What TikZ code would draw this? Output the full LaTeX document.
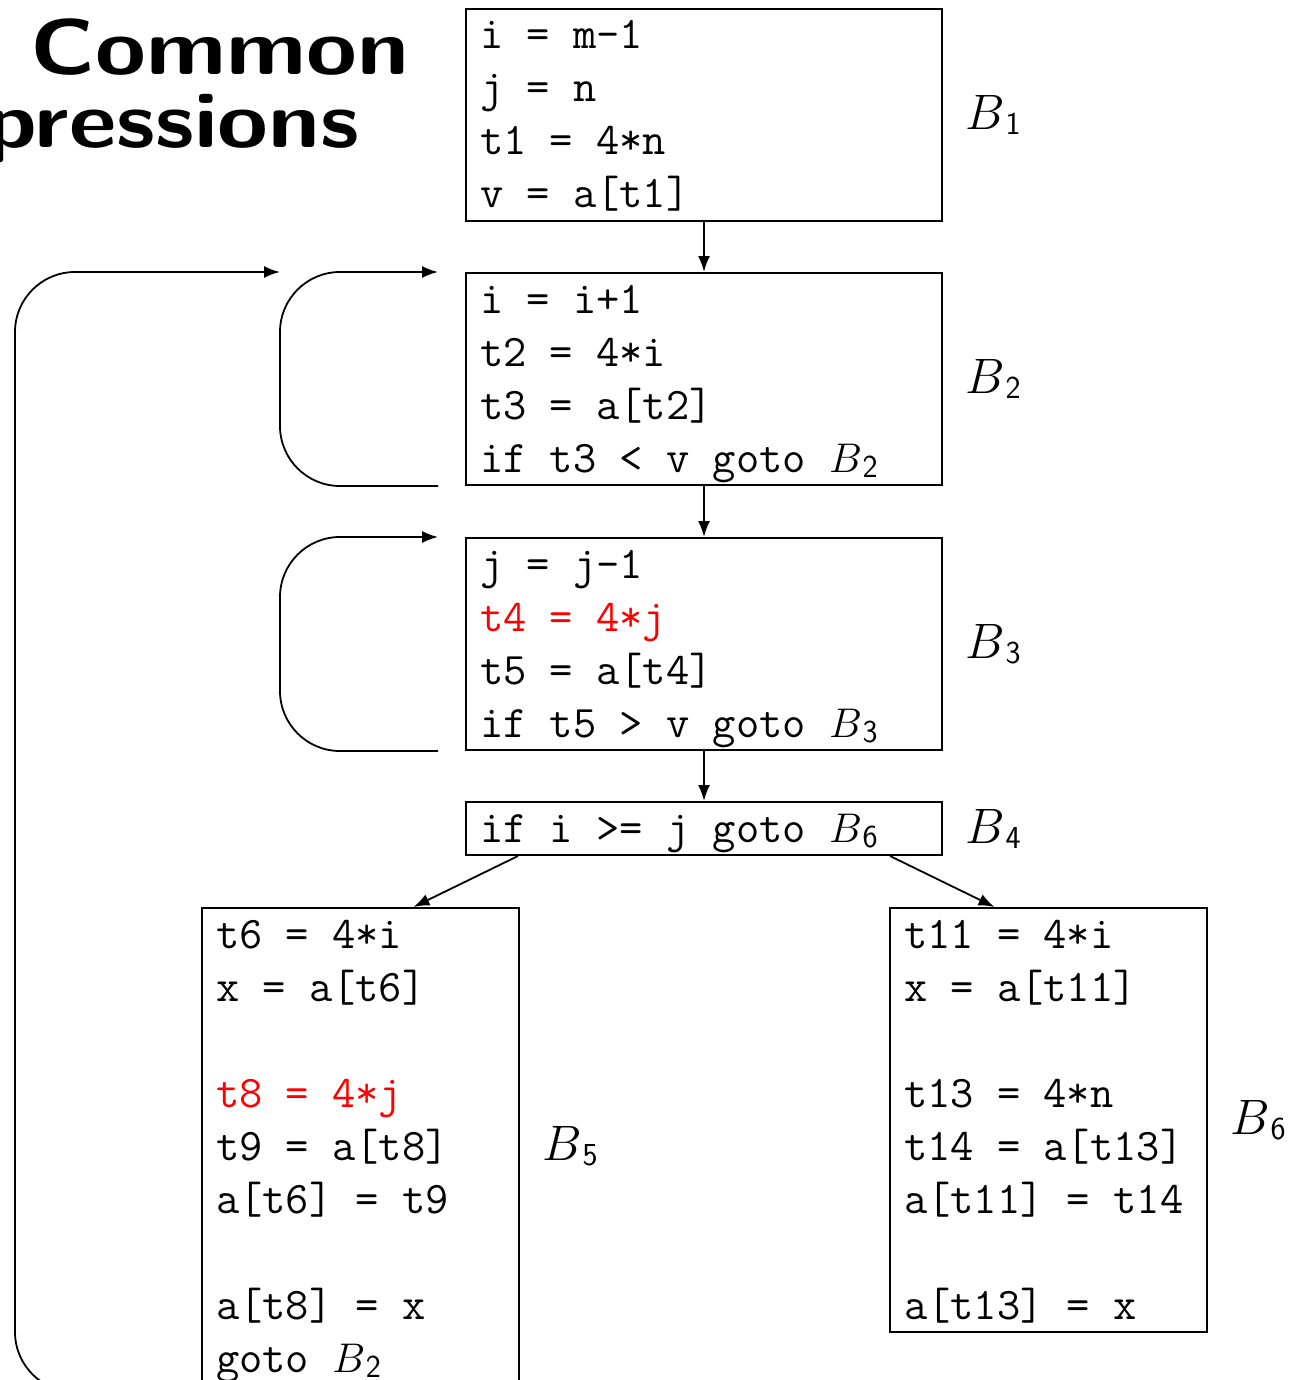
\documentclass[tikz,border=0pt]{standalone}
\usetikzlibrary{arrows.meta}
\newcommand\codestrut{\rule[-6.5pt]{0pt}{26.5pt}}
\newcommand\sk{\hbox{\phantom{x}}}
\newcommand\blk[1]{$B$\kern0.3pt\raisebox{-2.5pt}{\fontsize{16}{16}\selectfont\sffamily #1}}
\tikzset{
  block/.style={draw, line width=1pt, anchor=north west, inner xsep=7pt, inner ysep=0pt,
    align=left, font=\fontsize{22.6}{26.5}\selectfont\ttfamily},
  wide/.style={block, text width=224pt},
  narrow/.style={block, text width=144.5pt},
  flow/.style={-{Latex[length=8pt,width=6pt]}, line width=0.9pt},
  blabel/.style={anchor=west, inner sep=0pt, font=\fontsize{23}{26.5}\selectfont},
  title/.style={anchor=base east, inner sep=0pt, font=\fontsize{39.5}{40}\selectfont\sffamily\bfseries},
}
\begin{document}
\begin{tikzpicture}[x=0.5pt,y=-0.5pt]
  \useasboundingbox (0,0) rectangle (1289,1380);
  \clip (0,0) rectangle (1289,1380);
  % title, cut by the frame
  \node[title] (title1) at (410,75) {\scalebox{1.17}[1]{Common}};
  \node[title] (title2) at (360,148) {\scalebox{1.17}[1]{Subexpressions}};
  % blocks
  \node[wide] (b1) at (465,8) {\codestrut i\sk=\sk m-1\\ \codestrut j\sk=\sk n\\ \codestrut t1\sk=\sk 4*n\\ \codestrut v\sk=\sk a[t1]};
  \node[wide] (b2) at (465,272) {\codestrut i\sk=\sk i+1\\ \codestrut t2\sk=\sk 4*i\\ \codestrut t3\sk=\sk a[t2]\\ \codestrut if\sk t3\sk<\sk v\sk goto\sk\blk{2}};
  \node[wide] (b3) at (465,537) {\codestrut j\sk=\sk j-1\\ \codestrut{\color{red}t4\sk=\sk 4*j}\\ \codestrut t5\sk=\sk a[t4]\\ \codestrut if\sk t5\sk>\sk v\sk goto\sk\blk{3}};
  \node[wide] (b4) at (465,801) {\codestrut if\sk i\sk>=\sk j\sk goto\sk\blk{6}};
  \node[narrow] (b5) at (201,907) {\codestrut t6\sk=\sk 4*i\\ \codestrut x\sk=\sk a[t6]\\ \codestrut\\ \codestrut{\color{red}t8\sk=\sk 4*j}\\ \codestrut t9\sk=\sk a[t8]\\ \codestrut a[t6]\sk=\sk t9\\ \codestrut\\ \codestrut a[t8]\sk=\sk x\\ \codestrut goto\sk\blk{2}};
  \node[narrow] (b6) at (889,907) {\codestrut t11\sk=\sk 4*i\\ \codestrut x\sk=\sk a[t11]\\ \codestrut\\ \codestrut t13\sk=\sk 4*n\\ \codestrut t14\sk=\sk a[t13]\\ \codestrut a[t11]\sk=\sk t14\\ \codestrut\\ \codestrut a[t13]\sk=\sk x};
  % labels
  \foreach \b/\n in {b1/1,b2/2,b3/3,b4/4,b5/5,b6/6}
    \node[blabel] (l\n) at ([xshift=11pt]\b.east) {\blk{\n}};
  % edges
  \draw[flow] (b1.south) -- (b2.north);
  \draw[flow] (b2.south) -- (b3.north);
  \draw[flow] (b3.south) -- (b4.north);
  \draw[flow] ([xshift=26.5pt]b4.south west) -- ([xshift=26.5pt]b5.north);
  \draw[flow] ([xshift=-26.5pt]b4.south east) -- ([xshift=-27pt]b6.north);
  % back edges
  \coordinate (join) at ([xshift=-92.5pt]b2.north west);
  \draw[flow, rounded corners=30pt] ([xshift=-13.5pt]b2.south west) -- ++(-79pt,0) |- ([xshift=-13.5pt]b2.north west);
  \draw[flow, rounded corners=30pt] ([xshift=-13.5pt]b3.south west) -- ++(-79pt,0) |- ([xshift=-13.5pt]b3.north west);
  \draw[flow, rounded corners=30pt] ([yshift=-3pt]b5.south west) -| (15,272) -- (join);
\end{tikzpicture}
\end{document}
